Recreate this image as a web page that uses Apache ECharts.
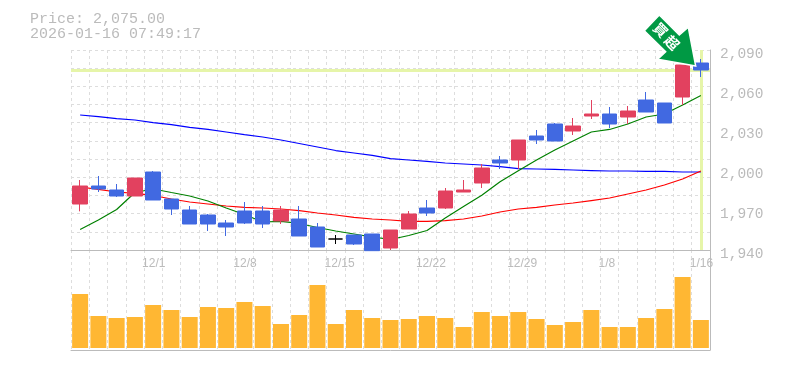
<!DOCTYPE html>
<html><head><meta charset="utf-8">
<style>html,body{margin:0;padding:0;background:#fff}#c{width:785px;height:370px}</style>
<script src="https://cdn.jsdelivr.net/npm/echarts@6/dist/echarts.min.js"></script>
</head><body><div id="c"></div>
<script>
const categories=['11/25','11/26','11/27','11/28','12/1','12/2','12/3','12/4','12/5','12/8','12/9','12/10','12/11','12/12','12/15','12/16','12/17','12/18','12/19','12/22','12/23','12/24','12/25','12/26','12/29','12/30','1/5','1/6','1/7','1/8','1/9','1/13','1/14','1/15','1/16'];
const tickLabels=['12/1','12/8','12/15','12/22','12/29','1/8','1/16'];
const opens=[1974.5,1988,1985,1980.5,1998.5,1978.25,1970,1966.25,1960.25,1969.25,1969.25,1961.75,1963.25,1957.25,1948.25,1951.25,1952,1941.5,1955.75,1971.5,1971.5,1983.5,1990.25,2007.5,2007.5,2025.5,2034.5,2029.25,2040.5,2042,2039.75,2052.5,2050.25,2054.75,2080.25];
const closes=[1988,1985.75,1980.5,1994,1977.5,1970.75,1959.5,1959.5,1957.25,1960.25,1959.5,1970,1950.5,1942.25,1948.25,1944.5,1939.5,1955,1967,1967.75,1984.25,1985,2001.5,2005.25,2022.5,2022.5,2021.75,2033,2042,2034.5,2044.25,2043.5,2035.25,2078.75,2075];
const lows=[1969,1983.5,1979.75,1980.5,1977.5,1966.25,1959.5,1954.25,1950.5,1959.5,1956.5,1959.5,1950.5,1942.25,1944.5,1943.75,1939.5,1940,1955.75,1965.5,1970.75,1983.5,1986.5,2000.75,2000.75,2019.5,2021.75,2026.25,2038.25,2031.5,2034.5,2043.5,2035.25,2048.75,2069.75];
const highs=[1992.5,1995.5,1989.5,1994,1999.25,1978.25,1973,1967,1962.5,1976,1973,1973,1973,1960.25,1951.25,1951.25,1952,1955,1969.25,1977.5,1986.5,1992.5,2004.5,2010.5,2022.5,2030,2035.25,2039,2052.5,2047.25,2048,2058.5,2050.25,2078.75,2083.25];
const maShort=[1955.4,1962.5,1970.4,1983.1,1985.75,1983.1,1980.5,1976.75,1971.5,1966.6,1961,1961.4,1959.9,1956.9,1954.25,1952,1949.75,1947.9,1950.9,1954.6,1964,1972.6,1981.1,1991.25,1999.5,2007.5,2015,2021.75,2028.5,2030.4,2034.5,2039.75,2042,2048.75,2055.9];
const maMid=[1987.25,1985.4,1983.5,1982.4,1980.9,1978.25,1976,1974.5,1973,1971.9,1971.5,1970.75,1969.6,1967.75,1966.25,1964.4,1963.25,1962.5,1961.4,1961.4,1962.1,1963.25,1965.5,1968.5,1970.75,1971.9,1973.75,1975.25,1977.1,1979,1982,1985,1988.75,1993.25,1999.25];
const maLong=[2041.25,2040.1,2038.6,2037.5,2035.6,2034.1,2031.9,2030.4,2028.5,2026.6,2024.75,2022.5,2019.9,2017.25,2014.6,2012.75,2010.9,2008.6,2007.5,2006.4,2005.25,2004.5,2003.75,2002.6,2001.1,2000.75,2000.4,2000,1999.6,1999.25,1999.25,1998.9,1998.9,1998.5,1998.5];
const volumes=[54,32,30,31,43,38,31,41,40,46,42,24,33,63,24,38,30,28,29,32,30,21,36,32,36,29,23,26,38,21,21,30,39,71,28];
const currentPrice=2075;
const headerLines=['Price: 2,075.00','2026-01-16 07:49:17'];
const badge=['買','超'];

const GREY='#bbbbbb', DASH={color:'#dddddd',type:[3,3],width:1};
const candleData=opens.map((o,i)=>[o,closes[i],lows[i],highs[i]]);
const labelEdges=categories.map(c=>tickLabels.includes(c)?c:'').concat(['']);
const chart=echarts.init(document.getElementById('c'),null,{renderer:'canvas'});
const line=(data,color)=>({type:'line',data,xAxisIndex:0,yAxisIndex:0,showSymbol:false,symbol:'none',z:2,silent:true,animation:false,lineStyle:{color,width:1.2}});
chart.setOption({
  animation:false,backgroundColor:'#fff',
  title:{text:headerLines.join('\n'),left:30,top:12,padding:0,textStyle:{fontFamily:'Liberation Mono',fontSize:15,lineHeight:15,fontWeight:'normal',color:GREY}},
  grid:[{left:71,top:50,width:639,height:200},{left:71,top:250,width:639,height:100},{left:69,top:250,width:639,height:100},{left:71,top:54,width:639,height:200}],
  xAxis:[
    {type:'category',gridIndex:0,data:categories,boundaryGap:true,axisLine:{lineStyle:{color:GREY,width:1}},axisTick:{show:false},axisLabel:{show:false},splitLine:{show:true,interval:0,lineStyle:DASH}},
    {type:'category',gridIndex:1,data:categories,boundaryGap:true,axisLine:{onZero:false,lineStyle:{color:GREY,width:1}},axisTick:{show:false},axisLabel:{show:false},splitLine:{show:true,interval:0,lineStyle:DASH}},
    {type:'category',gridIndex:2,data:labelEdges,boundaryGap:false,position:'top',axisLine:{show:false},axisTick:{show:false},splitLine:{show:false},
     axisLabel:{show:true,inside:true,interval:0,hideOverlap:false,align:'left',margin:8,fontFamily:'Liberation Sans',fontSize:12,color:GREY}},
    {type:'category',gridIndex:3,show:false,data:categories}
  ],
  yAxis:[
    {type:'value',gridIndex:0,position:'right',min:1940,max:2090,interval:30,axisLine:{show:true,lineStyle:{color:GREY,width:1}},axisTick:{show:false},splitLine:{show:false},axisLabel:{show:false}},
    {type:'value',gridIndex:0,position:'left',min:0,max:11,interval:1,axisLine:{show:false},axisTick:{show:false},axisLabel:{show:false},splitLine:{show:true,lineStyle:DASH}},
    {type:'value',gridIndex:1,position:'right',min:-2,max:98,axisLine:{show:true,lineStyle:{color:GREY,width:1}},axisTick:{show:false},axisLabel:{show:false},splitLine:{show:false}},
    {type:'value',gridIndex:2,show:false,min:0,max:1},
    {type:'value',gridIndex:3,position:'right',min:1940,max:2090,interval:30,axisLine:{show:false},axisTick:{show:false},splitLine:{show:false},
     axisLabel:{margin:10,fontFamily:'Liberation Mono',fontSize:14.5,color:GREY,formatter:v=>echarts.format.addCommas(v)}}
  ],
  series:[
    {type:'line',data:[],xAxisIndex:0,yAxisIndex:0,z:1,silent:true,
     markLine:{z:1,silent:true,symbol:'none',animation:false,label:{show:false},lineStyle:{color:'#e6f5a9',width:3,type:'solid'},data:[{yAxis:currentPrice},{xAxis:categories.length-1}]}},
    line(maLong,'#0000ff'),line(maMid,'#ff0000'),line(maShort,'#008000'),
    {type:'candlestick',data:candleData,xAxisIndex:0,yAxisIndex:0,z:3,barWidth:15,silent:true,
     itemStyle:{color:'#e2415f',color0:'#4169e1',borderColor:'#e2415f',borderColor0:'#4169e1',borderColorDoji:'#000000',borderWidth:1}},
    {type:'bar',data:volumes,xAxisIndex:1,yAxisIndex:2,barWidth:16,silent:true,itemStyle:{color:'#ffb733'}}
  ],
  graphic:[
    {type:'polygon',z:100,shape:{points:[[644.3,30.7],[659.3,15],[679.3,35],[688.3,27.3],[695.7,66],[657.7,59.3],[665.7,51.7]]},style:{fill:'#009944',stroke:'#ffffff',lineWidth:1.5}},
    {type:'text',z:101,x:660.7,y:30,rotation:-Math.PI/4,style:{text:badge[0],fill:'#fff',font:'bold 14px "Noto Sans CJK JP"',align:'center',verticalAlign:'middle'}},
    {type:'text',z:101,x:672,y:42.7,rotation:-Math.PI/4,style:{text:badge[1],fill:'#fff',font:'bold 14px "Noto Sans CJK JP"',align:'center',verticalAlign:'middle'}}
  ]
});
</script></body></html>
